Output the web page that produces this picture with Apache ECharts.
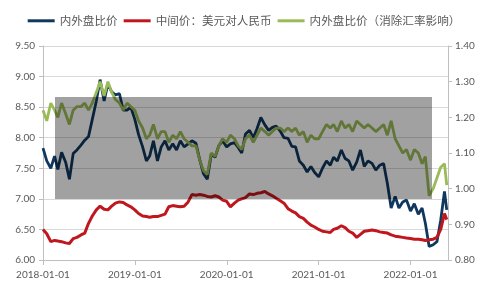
<!DOCTYPE html>
<html>
<head>
<meta charset="utf-8">
<script src="https://cdn.jsdelivr.net/npm/echarts@6/dist/echarts.min.js"></script>
<style>
  html, body { margin: 0; padding: 0; background: #fff; }
  #chart { width: 488px; height: 296px; }
</style>
</head>
<body>
<div id="chart"></div>
<script>
// sampled on the 1st and 16th of each month, 2018-01 .. 2022-05, plus the last day
var seriesNames = ['内外盘比价', '中间价：美元对人民币', '内外盘比价（消除汇率影响）']
var lastDate = '2022-05-25'
var axisEndDate = '2022-05-30'

var ratio = [
  7.83, 7.62, 7.50, 7.70, 7.48, 7.76, 7.60, 7.32, 7.74, 7.80, 7.88, 7.96, 8.02, 8.30, 8.60, 8.95, 8.60, 8.88, 8.75, 8.70, 8.72, 8.45, 8.45, 8.50,
  8.30, 8.05, 7.85, 7.62, 7.70, 7.95, 7.62, 7.85, 7.95, 7.80, 7.90, 7.80, 7.95, 7.85, 7.90, 7.95, 7.91, 7.64, 7.41, 7.32, 7.73, 7.68, 7.87, 7.95,
  7.85, 7.90, 7.92, 7.84, 7.75, 8.06, 8.12, 8.00, 8.15, 8.33, 8.21, 8.12, 8.17, 8.19, 8.11, 8.00, 7.99, 7.86, 7.85, 7.62, 7.55, 7.44, 7.53, 7.43,
  7.36, 7.50, 7.62, 7.55, 7.68, 7.62, 7.80, 7.66, 7.62, 7.47, 7.60, 7.80, 7.53, 7.62, 7.58, 7.47, 7.55, 7.58, 7.25, 6.85, 7.04, 6.85, 6.95, 6.98,
  6.80, 6.92, 6.75, 6.85, 6.60, 6.22, 6.25, 6.30, 6.65, 7.12, 6.82
]
var usdCny = [
  6.50, 6.43, 6.30, 6.32, 6.31, 6.30, 6.28, 6.27, 6.35, 6.37, 6.41, 6.44, 6.60, 6.72, 6.82, 6.88, 6.83, 6.82, 6.88, 6.93, 6.95, 6.94, 6.90, 6.87,
  6.82, 6.76, 6.72, 6.71, 6.70, 6.71, 6.71, 6.73, 6.75, 6.87, 6.89, 6.88, 6.87, 6.88, 6.95, 7.07, 7.06, 7.07, 7.06, 7.04, 7.03, 7.05, 7.03, 6.98,
  6.96, 6.87, 6.93, 6.98, 7.00, 7.02, 7.08, 7.07, 7.09, 7.10, 7.12, 7.08, 7.05, 7.01, 6.97, 6.93, 6.84, 6.80, 6.77, 6.71, 6.68, 6.62, 6.57, 6.54,
  6.50, 6.47, 6.46, 6.45, 6.50, 6.52, 6.56, 6.53, 6.47, 6.44, 6.37, 6.42, 6.47, 6.48, 6.49, 6.48, 6.46, 6.45, 6.44, 6.41, 6.39, 6.38, 6.37, 6.36,
  6.35, 6.34, 6.34, 6.33, 6.32, 6.33, 6.34, 6.37, 6.50, 6.76, 6.66
]
var ratioExFx = [
  1.22, 1.19, 1.24, 1.22, 1.20, 1.24, 1.21, 1.18, 1.22, 1.23, 1.23, 1.24, 1.22, 1.24, 1.27, 1.30, 1.26, 1.30, 1.27, 1.25, 1.24, 1.22, 1.24, 1.23,
  1.22, 1.19, 1.17, 1.14, 1.15, 1.18, 1.14, 1.16, 1.16, 1.13, 1.15, 1.14, 1.16, 1.14, 1.13, 1.12, 1.12, 1.08, 1.05, 1.04, 1.10, 1.09, 1.12, 1.14,
  1.13, 1.15, 1.14, 1.12, 1.11, 1.14, 1.15, 1.13, 1.15, 1.17, 1.16, 1.15, 1.16, 1.17, 1.17, 1.16, 1.17, 1.16, 1.17, 1.15, 1.16, 1.13, 1.15, 1.14,
  1.14, 1.16, 1.18, 1.17, 1.18, 1.16, 1.19, 1.17, 1.18, 1.16, 1.19, 1.18, 1.17, 1.18, 1.17, 1.16, 1.17, 1.18, 1.15, 1.19, 1.14, 1.12, 1.10, 1.11,
  1.08, 1.11, 1.10, 1.07, 1.09, 0.98, 1.00, 1.03, 1.06, 1.07, 1.01
]

var dates = []
for (var y = 2018; y <= 2022; y++) {
  for (var m = 1; m <= 12; m++) {
    if (y === 2022 && m > 5) break
    var mm = (m < 10 ? '0' : '') + m
    dates.push(y + '-' + mm + '-01', y + '-' + mm + '-16')
  }
}
dates.push(lastDate)

var DAY = 86400000
var base = Date.UTC(2018, 0, 1)
function dayOf(s) {
  var p = s.split('-')
  return Math.round((Date.UTC(+p[0], +p[1] - 1, +p[2]) - base) / DAY)
}
// ticks sit on year starts (interval 365.25 days)
function fmtYear(v) {
  return (2018 + Math.round(v / 365.25)) + '-01-01'
}
function pairs(arr) {
  return dates.map(function (d, i) { return [dayOf(d), arr[i]] })
}

var labelFont = { color: '#595959', fontFamily: 'Lato', fontSize: 10 }
var axisGrey = '#BFBFBF'

var chart = echarts.init(document.getElementById('chart'))
chart.setOption({
  animation: false,
  backgroundColor: '#fff',
  color: ['#10385E', '#C0171F', '#9BBB59'],
  legend: {
    top: 10,
    left: 'center',
    icon: 'rect',
    itemWidth: 27,
    itemHeight: 3,
    itemGap: 6,
    data: seriesNames,
    textStyle: { color: '#595959', fontFamily: 'Noto Sans CJK SC', fontSize: 11.6 }
  },
  grid: { left: 43, right: 40, top: 46, bottom: 36 },
  xAxis: {
    type: 'value',
    min: 0,
    max: dayOf(axisEndDate),
    interval: 365.25,
    splitLine: { show: false },
    axisLine: { lineStyle: { color: axisGrey } },
    axisTick: { length: 5, lineStyle: { color: axisGrey } },
    axisLabel: Object.assign({ margin: 10, showMaxLabel: false, formatter: fmtYear }, labelFont)
  },
  yAxis: [{
    type: 'value',
    min: 6,
    max: 9.5,
    interval: 0.5,
    axisLine: { show: true, lineStyle: { color: axisGrey } },
    axisTick: { show: true, length: 4, lineStyle: { color: axisGrey } },
    splitLine: { lineStyle: { color: '#D9D9D9' } },
    axisLabel: Object.assign({ margin: 8, formatter: function (v) { return v.toFixed(2) } }, labelFont)
  }, {
    type: 'value',
    min: 0.8,
    max: 1.4,
    interval: 0.1,
    axisLine: { show: true, lineStyle: { color: axisGrey } },
    axisTick: { show: true, length: 4, lineStyle: { color: axisGrey } },
    splitLine: { show: false },
    axisLabel: Object.assign({ margin: 7, formatter: function (v) { return v.toFixed(2) } }, labelFont)
  }],
  series: [{
    name: seriesNames[0],
    type: 'line',
    yAxisIndex: 0,
    showSymbol: false,
    lineStyle: { width: 2.8 },
    data: pairs(ratio)
  }, {
    name: seriesNames[1],
    type: 'line',
    yAxisIndex: 0,
    showSymbol: false,
    lineStyle: { width: 3 },
    data: pairs(usdCny)
  }, {
    name: seriesNames[2],
    type: 'line',
    yAxisIndex: 1,
    showSymbol: false,
    lineStyle: { width: 2.8 },
    data: pairs(ratioExFx)
  }],
  // grey band laid over the picture
  graphic: [{
    type: 'rect',
    z: 100,
    shape: { x: 55, y: 97, width: 377, height: 102 },
    style: { fill: 'rgba(0,0,0,0.37)' }
  }]
})
</script>
</body>
</html>
